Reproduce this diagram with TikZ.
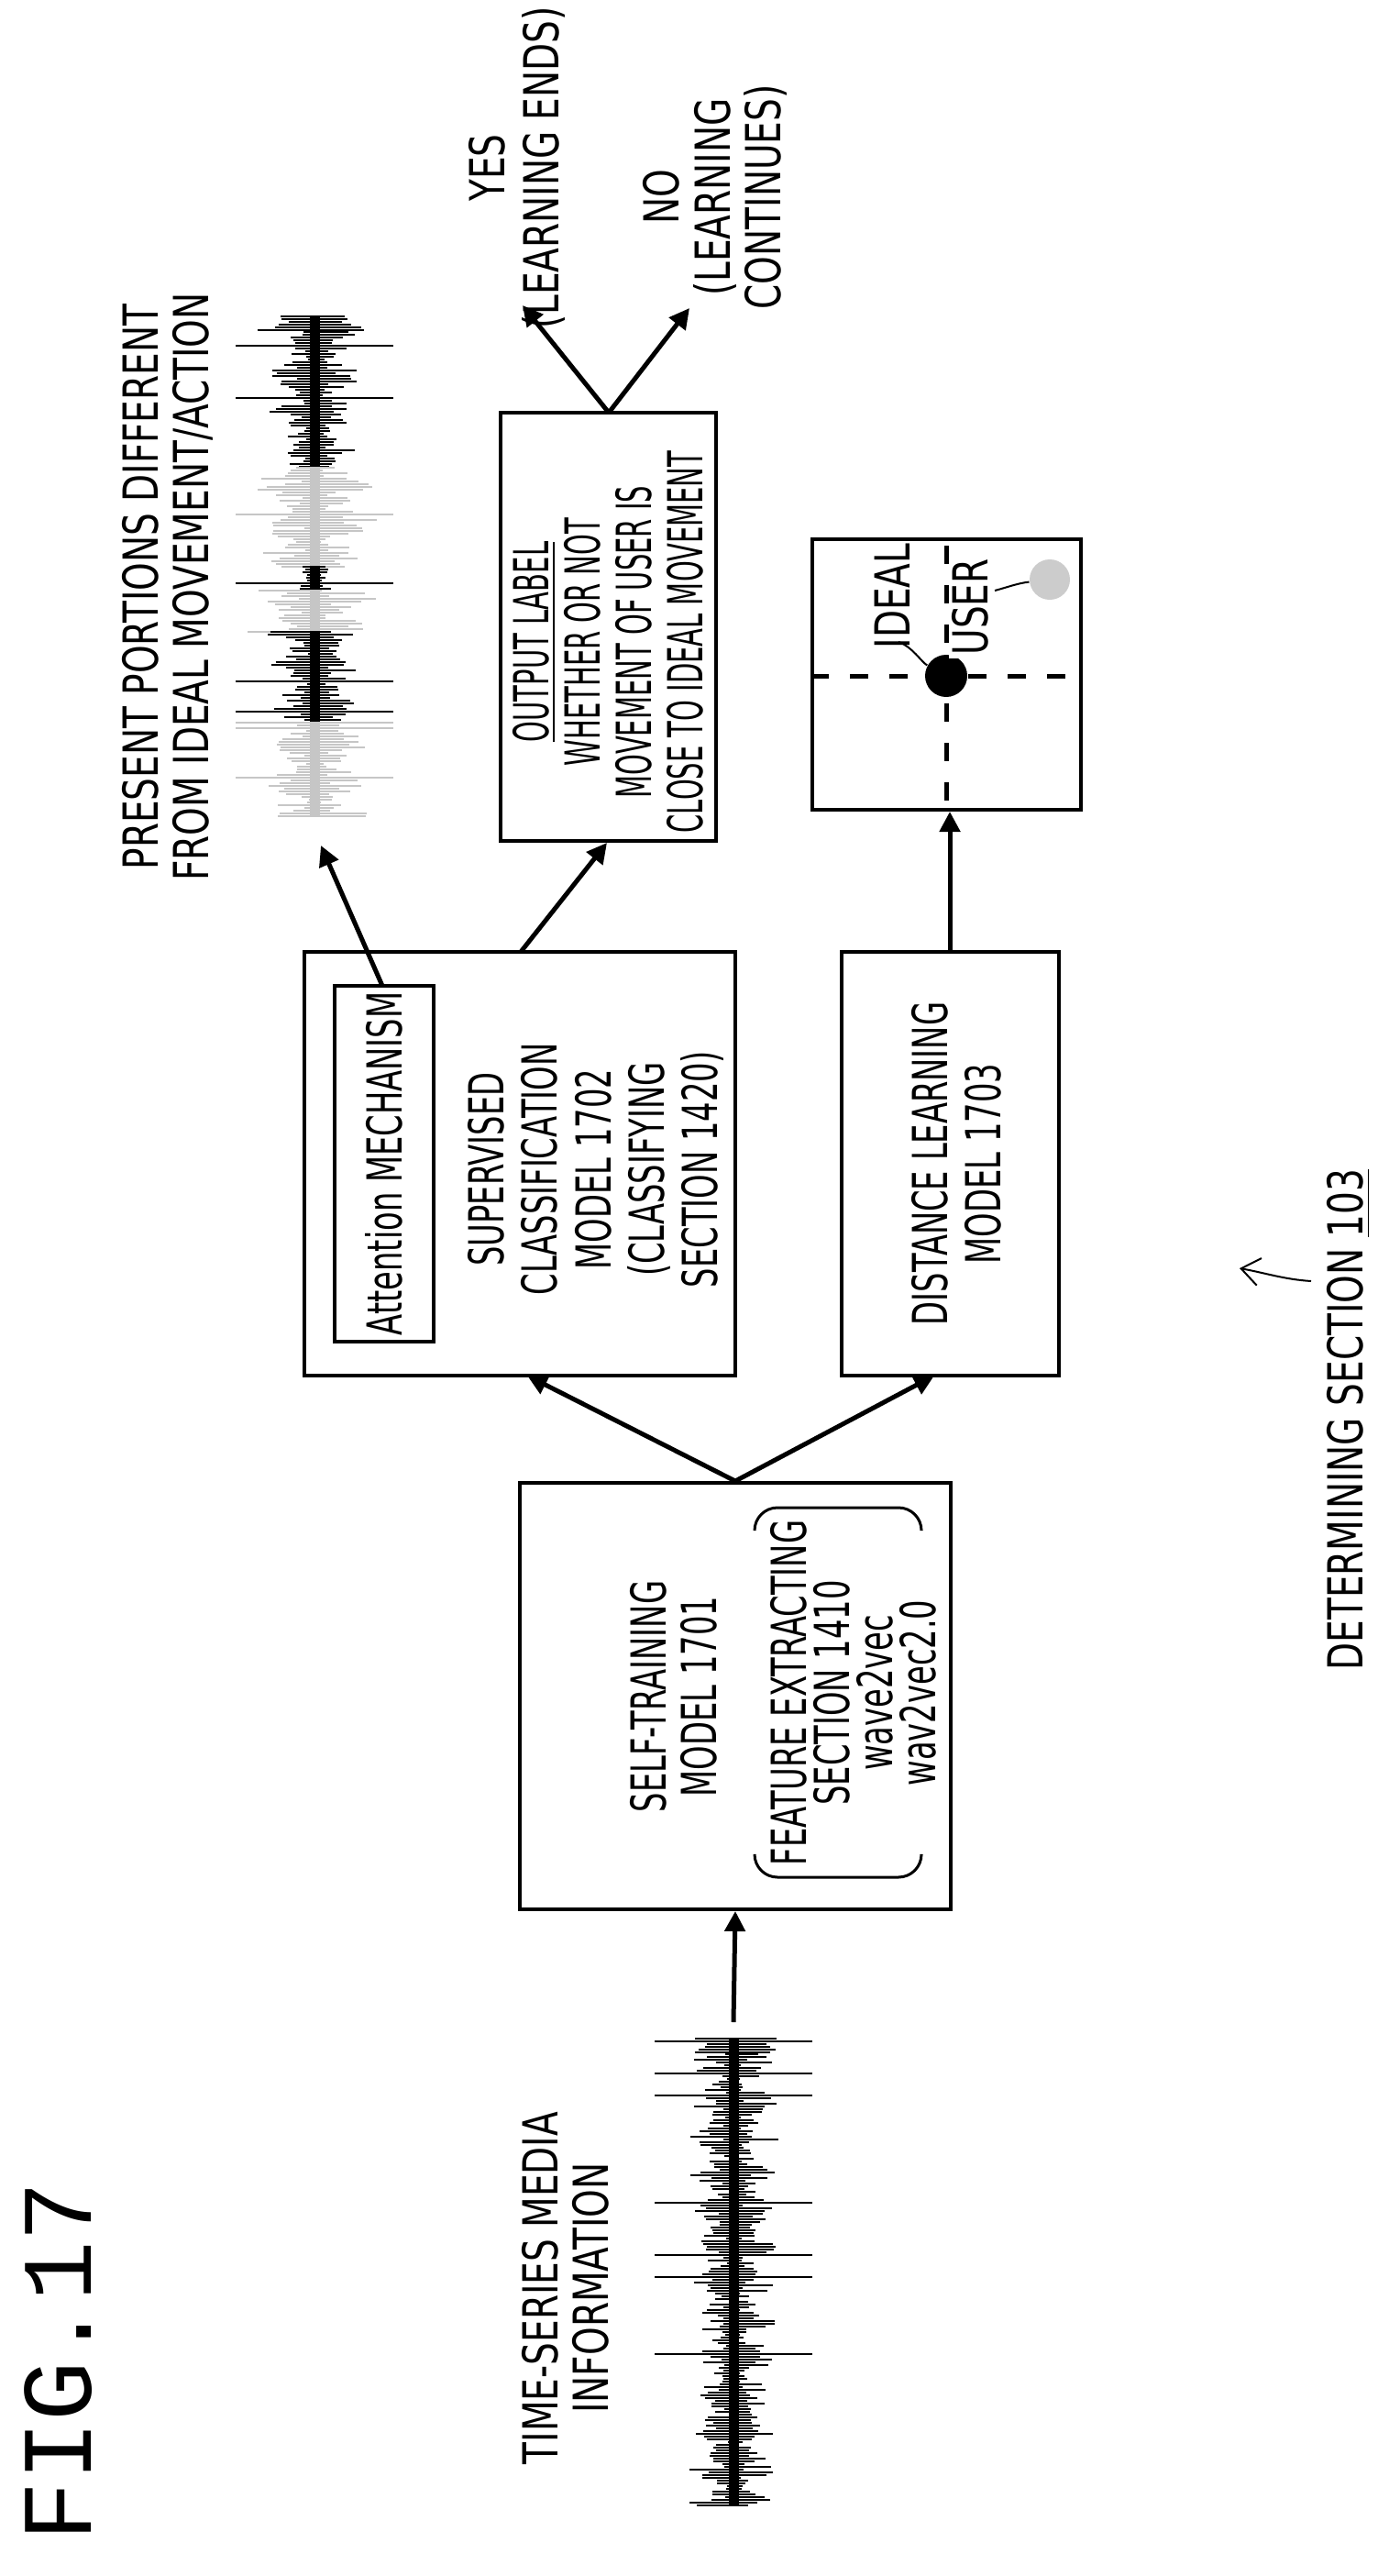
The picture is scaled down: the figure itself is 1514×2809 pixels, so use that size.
\documentclass[tikz,border=0pt]{standalone}
\usepackage{fontspec}
\usetikzlibrary{arrows.meta}
\newfontfamily\fA{DejaVu Sans}[FakeStretch=0.74]
\newfontfamily\fB{DejaVu Sans}[FakeStretch=0.55]
\newfontfamily\fC{DejaVu Sans}[FakeStretch=0.64]
\newfontfamily\fM{Liberation Mono}
\newcommand\wseg[7]{% cx, y0, y0+step, y1, color, base, amp
  \foreach \yy in {#2,#3,...,#4}{%
    \pgfmathsetmacro\rr{rnd}%
    \pgfmathsetmacro\ee{0.75+0.25*sin(mod(\yy,400)*9)}%
    \pgfmathsetmacro\wl{ifthenelse(\rr>0.95,86,(#6+#7*rnd)*\ee)}%
    \pgfmathsetmacro\wr{ifthenelse(\rr>0.95,86,(#6+#7*rnd)*\ee)}%
    \draw[#5,line width=0.28mm] ({#1-\wl},\yy) -- ({#1+\wr},\yy);
  }%
  \draw[#5,line width=1.1mm] (#1,#2) -- (#1,#4);
}
\begin{document}
\begin{tikzpicture}[x=0.1mm,y=-0.1mm,
  box/.style={draw,line width=0.4mm,inner sep=0pt},
  arr/.style={line width=0.5mm,-{Triangle[length=2.2mm,width=2.2mm]}},
  txt/.style={rotate=90,align=center,inner sep=0pt,font=\fA\fontsize{15}{15.8}\selectfont},
  thin/.style={line width=0.2mm}]
\useasboundingbox (0,0) rectangle (1514,2809);
\pgfmathsetseed{17}
% FIG
\node[rotate=90,inner sep=0pt,font=\fM\fontsize{31}{31}\selectfont] (fig) at (64,2575) {FIG.17};
% boxes
\node[box,minimum width=47mm,minimum height=46.2mm] (sup) at (567,1269) {};
\node[box,minimum width=10.8mm,minimum height=38.8mm] (att) at (419,1269) {};
\node[box,minimum width=23.7mm,minimum height=46.2mm] (dist) at (1036.5,1269) {};
\node[box,minimum width=47mm,minimum height=46.5mm] (self) at (802,1849.5) {};
\node[box,minimum width=23.5mm,minimum height=46.7mm] (out) at (663.5,683.5) {};
\node[box,minimum width=29.3mm,minimum height=29.5mm] (plot) at (1032.5,735.5) {};
% texts
\node[txt,font=\fC\fontsize{15}{16.4}\selectfont] (attT) at (419,1269) {Attention MECHANISM};
\node[txt,font=\fC\fontsize{15}{16.6}\selectfont] (supT) at (650,1275) {SUPERVISED\\CLASSIFICATION\\MODEL 1702\\(CLASSIFYING\\SECTION 1420)};
\node[txt,font=\fC\fontsize{15}{16.6}\selectfont] (distT) at (1043,1269) {DISTANCE LEARNING\\MODEL 1703};
\node[txt,font=\fC\fontsize{15}{15.8}\selectfont] (selfT) at (735,1850) {SELF-TRAINING\\MODEL 1701};
\node[txt,font=\fC\fontsize{15}{13.4}\selectfont] (featT) at (931,1846) {FEATURE EXTRACTING\\SECTION 1410\\wave2vec\\wav2vec2.0};
\draw[thin,line width=0.3mm,rounded corners=2.5mm] (823,1668) -- (823,1644) -- (1005,1644) -- (1005,1668);
\draw[thin,line width=0.3mm,rounded corners=2.5mm] (823,2023) -- (823,2047) -- (1005,2047) -- (1005,2023);
\node[txt,font=\fB\fontsize{15}{15.9}\selectfont] (outT) at (663,700) {\underline{OUTPUT LABEL}\\WHETHER OR NOT\\MOVEMENT OF USER IS\\CLOSE TO IDEAL MOVEMENT};
\node[txt] (pres) at (183,640) {PRESENT PORTIONS DIFFERENT\\FROM IDEAL MOVEMENT/ACTION};
\node[txt] (tsm) at (617,2495) {TIME-SERIES MEDIA\\INFORMATION};
\node[txt,font=\fA\fontsize{15}{17}\selectfont] (yes) at (564,183) {YES\\(LEARNING ENDS)};
\node[txt,font=\fA\fontsize{15}{15.8}\selectfont] (no) at (780,215) {NO\\(LEARNING\\CONTINUES)};
\node[txt] (det) at (1471,1548) {DETERMINING SECTION \underline{103}};
% plot contents
\draw[line width=0.5mm,dash pattern=on 2mm off 2.3mm] (plot.west |- 0,737) -- (plot.east |- 0,737);
\draw[line width=0.5mm,dash pattern=on 2mm off 2.3mm] (1032,595) -- (1032,883);
\node[circle,fill=black,minimum size=4.6mm,inner sep=0pt] (ideal) at (1032,737) {};
\node[circle,fill=gray!40,minimum size=4.4mm,inner sep=0pt] (user) at (1145,632) {};
\node[txt] (idealT) at (973,650) {IDEAL};
\node[txt,fill=white,inner sep=0.3mm] (userT) at (1058,662) {USER};
\draw[thin] (980,700) .. controls (995,705) and (1005,722) .. (ideal);
\draw[thin] (1085,644) .. controls (1100,640) and (1110,636) .. (user);
% connector coordinates
\coordinate (w1top) at (800,2205);
\coordinate (w2bot) at (350,922);
\coordinate (yesE) at (570,333);
\coordinate (noE) at (752,336);
\coordinate (detA) at (1352,1383);
\draw[arr] (w1top) -- (self.south);
\draw[arr] (self.north) -- (575,1500);
\draw[arr] (self.north) -- (1019,1500);
\draw[arr] (568,1038) -- (662,919);
\draw[arr] (417,1075) -- (w2bot);
\draw[arr] (1036,1038) -- (1036,885);
\draw[arr] (664,450) -- (yesE);
\draw[arr] (664,450) -- (noE);
\draw[thin,->,>={Straight Barb[length=2mm,width=3mm]}] (1430,1397) .. controls (1400,1395) and (1380,1388) .. (detA);
% waveforms
\wseg{800}{2223}{2226}{2240}{black}{55}{30}
\wseg{800}{2240}{2243}{2732}{black}{8}{42}
\wseg{343}{345}{348}{362}{black}{55}{30}
\wseg{343}{362}{365}{510}{black}{12}{40}
\wseg{343}{510}{513}{618}{gray!45}{12}{60}
\wseg{343}{618}{621}{644}{black}{12}{12}
\wseg{343}{644}{647}{689}{gray!45}{8}{65}
\wseg{343}{689}{692}{788}{black}{12}{40}
\wseg{343}{788}{791}{890}{gray!45}{12}{50}
\end{tikzpicture}
\end{document}
